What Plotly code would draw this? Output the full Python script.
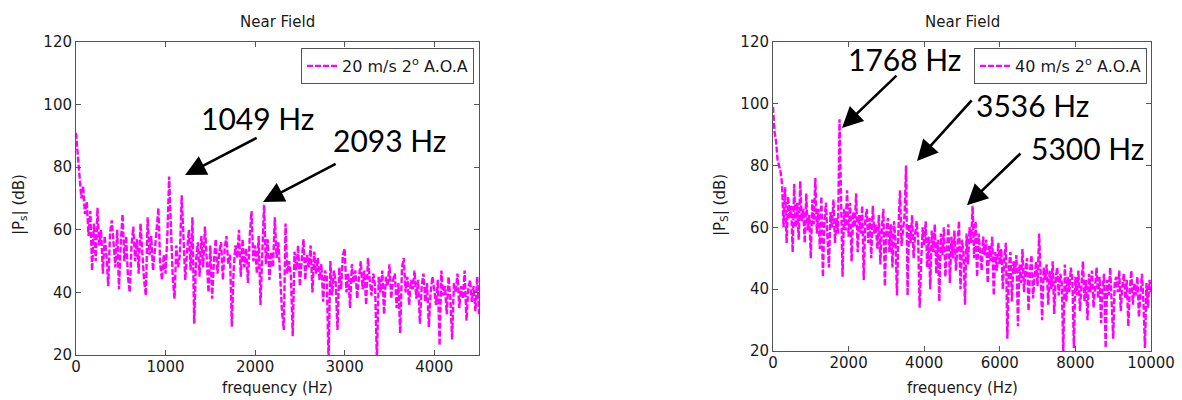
import plotly.graph_objects as go

# ---------------- data ----------------
freq_step_left = 20      # Hz per bin, left spectrum (20 m/s)
freq_step_right = 40     # Hz per bin, right spectrum (40 m/s)

ps_20ms = [
    91, 84, 76, 70, 74, 65, 69, 58, 66, 47,
    62, 50, 67, 55, 60, 46, 58, 52, 42, 59,
    63, 54, 48, 60, 41, 56, 65, 50, 58, 45,
    40, 55, 61, 50, 57, 46, 62, 53, 44, 39,
    64, 52, 58, 47, 55, 60, 67, 49, 44, 52,
    46, 58, 77, 60, 45, 38, 55, 48, 52, 71,
    56, 44, 53, 60, 47, 64, 30, 50, 56, 45,
    58, 48, 61, 52, 40, 55, 38, 50, 57, 46,
    53, 56, 44, 54, 58, 49, 52, 29, 47, 55,
    51, 60, 45, 57, 48, 54, 43, 58, 66, 50,
    55, 46, 58, 36, 52, 68, 49, 57, 44, 53,
    48, 64, 51, 56, 45, 34, 28, 62, 46, 50,
    45, 26, 53, 47, 55, 42, 50, 57, 44, 52,
    48, 55, 40, 53, 46, 51, 44, 49, 37, 47,
    45, 18, 50, 39, 47, 43, 28, 48, 41, 52,
    54, 40, 46, 35, 49, 43, 47, 38, 45, 50,
    41, 47, 36, 51, 44, 39, 46, 42, 18, 45,
    40, 47, 33, 45, 42, 49, 38, 44, 46, 35,
    43, 27, 48, 51, 40, 45, 36, 44, 41, 47,
    38, 44, 30, 42, 46, 37, 43, 29, 40, 45,
    41, 36, 44, 23, 47, 39, 42, 33, 45, 38,
    25, 43, 40, 46, 35, 42, 38, 47, 31, 41,
    44, 37, 42, 34, 45, 33,
]

ps_40ms = [
    99, 91, 88, 82, 80, 78, 74, 60, 73, 55,
    70, 63, 67, 52, 74, 60, 68, 56, 75, 62,
    66, 55, 71, 59, 64, 50, 69, 61, 76, 58,
    66, 53, 70, 44, 62, 68, 57, 47, 65, 60,
    69, 55, 63, 58, 95, 72, 44, 66, 59, 72,
    57, 68, 49, 65, 60, 71, 52, 64, 58, 67,
    43, 62, 66, 55, 63, 50, 67, 58, 61, 53,
    64, 48, 60, 66, 41, 59, 63, 52, 61, 47,
    62, 56, 38, 60, 72, 54, 59, 64, 80, 38,
    61, 55, 64, 50, 58, 62, 56, 34, 49, 60,
    54, 62, 47, 57, 40, 59, 52, 61, 45, 56,
    36, 58, 51, 60, 44, 55, 61, 42, 57, 50,
    59, 46, 54, 62, 40, 56, 52, 35, 58, 48,
    60, 55, 67, 50, 62, 44, 58, 53, 46, 57,
    51, 56, 42, 54, 49, 57, 38, 52, 46, 55,
    48, 53, 40, 50, 55, 24, 47, 52, 36, 49,
    45, 51, 28, 48, 42, 53, 39, 47, 50, 33,
    46, 51, 37, 44, 49, 41, 58, 45, 30, 47,
    43, 48, 35, 46, 40, 49, 32, 44, 47, 38,
    45, 42, 19, 48, 36, 44, 39, 47, 43, 21,
    44, 38, 46, 33, 41, 49, 36, 43, 30, 45,
    39, 46, 34, 42, 47, 37, 44, 29, 41, 45,
    21, 43, 38, 47, 35, 24, 42, 44, 39, 46,
    33, 41, 45, 37, 43, 28, 40, 46, 35, 42,
    38, 44, 31, 40, 45, 36, 21, 42, 34, 43,
    39,
]

freq_20ms = [i * freq_step_left for i in range(len(ps_20ms))]
freq_40ms = [i * freq_step_right for i in range(len(ps_40ms))]

series_names = ["20 m/s 2<sup>o</sup> A.O.A", "40 m/s 2<sup>o</sup> A.O.A"]
panel_title = "Near Field"
x_title = "frequency (Hz)"
y_titles = ["|P<sub>s</sub>| (dB)", "|P<sub>S</sub>| (dB)"]

x_ticks_left = [0, 1000, 2000, 3000, 4000]
x_ticks_right = [0, 2000, 4000, 6000, 8000, 10000]
y_ticks = [20, 40, 60, 80, 100, 120]

# peak labels: (label, arrow tip x, tip y, tail x, tail y, text x, text y)
peaks_left = [
    ("1049 Hz", 1218, 77.5, 2034, 89.6, 2022, 95.7),
    ("2093 Hz", 2089, 68.9, 2916, 81.3, 3497, 88.7),
]
peaks_right = [
    ("1768 Hz", 1825, 92.2, 3307, 109.6, 3466, 114.5),
    ("3536 Hz", 3810, 81.5, 5291, 101.6, 6878, 99.6),
    ("5300 Hz", 5132, 67.2, 6587, 84.4, 8307, 85.7),
]

# ---------------- figure ----------------
W, H = 1182, 400
MAG = "#ff00ff"
AX = "#555555"
TXT = "#1a1a1a"
FONT = "DejaVu Sans"

fig = go.Figure()
fig.add_trace(go.Scatter(
    x=freq_20ms, y=ps_20ms, mode="lines", name=series_names[0],
    line=dict(color=MAG, width=2.4, dash="6px,2px"),
    xaxis="x", yaxis="y", legend="legend",
))
fig.add_trace(go.Scatter(
    x=freq_40ms, y=ps_40ms, mode="lines", name=series_names[1],
    line=dict(color=MAG, width=2.4, dash="6px,2px"),
    xaxis="x2", yaxis="y2", legend="legend2",
))

axis_common = dict(
    showline=True, linecolor=AX, linewidth=1, mirror="ticks",
    ticks="inside", ticklen=5, tickcolor=AX, showgrid=False, zeroline=False,
    automargin=False, tickformat="d",
    tickfont=dict(family=FONT, size=15, color=TXT),
)

L0, L1 = 76 / W, 479 / W
R0, R1 = 773 / W, 1151 / W

fig.update_layout(
    width=W, height=H,
    margin=dict(l=0, r=0, t=0, b=0, autoexpand=False),
    paper_bgcolor="white", plot_bgcolor="white",
    font=dict(family=FONT, size=14, color=TXT),
    xaxis=dict(domain=[L0, L1], range=[0, 4500], tickvals=x_ticks_left,
               anchor="y", ticklabelstandoff=-2, **axis_common),
    yaxis=dict(domain=[1 - 355 / H, 1 - 42 / H], range=[20, 120], tickvals=y_ticks,
               anchor="x", ticklabelstandoff=0, **axis_common),
    xaxis2=dict(domain=[R0, R1], range=[0, 10000], tickvals=x_ticks_right,
                anchor="y2", ticklabelstandoff=-2, **axis_common),
    yaxis2=dict(domain=[1 - 351 / H, 1 - 42 / H], range=[20, 120], tickvals=y_ticks,
                anchor="x2", ticklabelstandoff=0, **axis_common),
    legend=dict(x=474 / W, xanchor="right", y=1 - 48 / H, yanchor="top",
                bgcolor="white", bordercolor=AX, borderwidth=1,
                font=dict(family=FONT, size=16, color=TXT)),
    legend2=dict(x=1147 / W, xanchor="right", y=1 - 48 / H, yanchor="top",
                 bgcolor="white", bordercolor=AX, borderwidth=1,
                 font=dict(family=FONT, size=16, color=TXT)),
    showlegend=True,
)

annotations = []
for cx in [(76 + 479) / 2 / W, (773 + 1151) / 2 / W]:
    annotations.append(dict(text=panel_title, x=cx, y=1 - 22 / H, xref="paper", yref="paper",
                            xanchor="center", yanchor="middle",
                            showarrow=False, font=dict(family=FONT, size=15, color=TXT)))
    annotations.append(dict(text=x_title, x=cx, y=1 - 388 / H, xref="paper", yref="paper",
                            xanchor="center", yanchor="middle",
                            showarrow=False, font=dict(family=FONT, size=15, color=TXT)))
for yt, xp in [(y_titles[0], 20), (y_titles[1], 721)]:
    annotations.append(dict(text=yt, x=xp / W, y=1 - 205 / H, xref="paper", yref="paper",
                            xanchor="center", yanchor="middle", textangle=-90,
                            showarrow=False, font=dict(family=FONT, size=15, color=TXT)))

for peaks, xr, yr in [(peaks_left, "x", "y"), (peaks_right, "x2", "y2")]:
    for lab, tx, ty, ax, ay, lx, ly in peaks:
        annotations.append(dict(text=lab, x=lx, y=ly, xref=xr, yref=yr, showarrow=False,
                                xanchor="center", yanchor="middle",
                                font=dict(family="Lato", size=30, color="black")))
        annotations.append(dict(text="", x=tx, y=ty, xref=xr, yref=yr,
                                ax=ax, ay=ay, axref=xr, ayref=yr, showarrow=True,
                                arrowhead=2, arrowsize=1.6, arrowwidth=2.6, arrowcolor="black"))

fig.update_layout(annotations=annotations)
fig.write_html("out.html", config={"displayModeBar": False},
               post_script="document.body.style.margin='0px';")
